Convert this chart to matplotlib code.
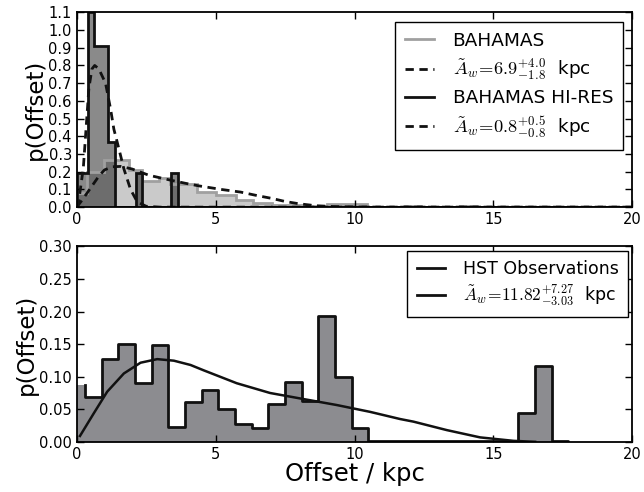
import numpy as np
import matplotlib
matplotlib.use('Agg')
import matplotlib.pyplot as plt
from matplotlib.lines import Line2D

plt.rcParams['mathtext.fontset'] = 'cm'
plt.rcParams['font.family'] = 'DejaVu Sans'

# --- top panel: simulated offsets ---
bahamas_edges = [0, 0.38, 1.0, 1.88, 2.36, 2.97, 3.36, 4.32, 5.0, 5.72, 6.36,
                 7.02, 8.4, 9.0, 10.44, 11.8, 12.4, 13.8, 14.4, 20]
bahamas_vals = [0.08, 0.2, 0.265, 0.21, 0.148, 0.165, 0.13, 0.085, 0.068, 0.042,
                0.026, 0.013, 0.006, 0.018, 0.002, 0.006, 0.002, 0.006, 0.0]

hires_edges = [0, 0.4, 0.64, 1.13, 1.37, 2.12, 2.37, 3.39, 3.63, 20]
hires_vals = [0.19, 1.1, 0.91, 0.365, 0.0, 0.19, 0.0, 0.19, 0.0]

bahamas_fit_x = [0, 0.2, 0.4, 0.6, 0.8, 1.0, 1.3, 1.6, 2.0, 2.6, 3.3, 3.9, 4.4,
                 5.2, 5.9, 6.5, 7.0, 7.5, 8.0, 8.6, 9.3, 10.0, 11.0, 20]
bahamas_fit_y = [0.0, 0.04, 0.085, 0.13, 0.175, 0.21, 0.228, 0.23, 0.215, 0.18,
                 0.155, 0.135, 0.12, 0.10, 0.085, 0.065, 0.05, 0.032, 0.019,
                 0.008, 0.003, 0.001, 0.0, 0.0]

hires_fit_x = [0.0, 0.05, 0.12, 0.24, 0.32, 0.44, 0.55, 0.65, 0.8, 1.04, 1.22,
               1.34, 1.52, 1.70, 1.94, 2.18, 2.5, 3.0, 20]
hires_fit_y = [0.0, 0.01, 0.085, 0.22, 0.40, 0.67, 0.78, 0.80, 0.78, 0.70, 0.555,
               0.44, 0.33, 0.216, 0.10, 0.03, 0.005, 0.0, 0.0]

# --- bottom panel: HST observations ---
hst_edges = np.linspace(-0.3, 17.7, 31)
hst_vals = [0.087, 0.069, 0.127, 0.150, 0.091, 0.148, 0.023, 0.0615, 0.0795,
            0.051, 0.028, 0.0205, 0.058, 0.092, 0.063, 0.193, 0.099, 0.0205,
            0.0015, 0.001, 0.001, 0.001, 0.001, 0.001, 0.001, 0.001, 0.001,
            0.0446, 0.117, 0.002]

hst_fit_x = [0.12, 0.62, 1.10, 1.70, 2.30, 2.90, 3.50, 4.10, 4.56, 5.76, 6.96,
             8.16, 9.36, 10.56, 11.64, 12.12, 13.32, 14.52, 15.72, 16.5]
hst_fit_y = [0.009, 0.044, 0.077, 0.105, 0.1215, 0.127, 0.1246, 0.118, 0.110,
             0.090, 0.075, 0.0657, 0.0565, 0.046, 0.035, 0.031, 0.018, 0.0068,
             0.0015, 0.0]

lab_bahamas = r'$\tilde{A}_w\!=\!6.9^{+4.0}_{-1.8}$  kpc'
lab_hires = r'$\tilde{A}_w\!=\!0.8^{+0.5}_{-0.8}$  kpc'
lab_hst = r'$\tilde{A}_w\!=\!11.82^{+7.27}_{-3.03}$  kpc'

DASH = (3, 2)

fig = plt.figure(figsize=(6.44, 4.92), dpi=100)
ax1 = fig.add_axes([0.119, 0.579, 0.863, 0.396])
ax2 = fig.add_axes([0.119, 0.102, 0.863, 0.397])

# top
ax1.stairs(bahamas_vals, bahamas_edges, fill=True, color='#cacaca', lw=0)
ax1.stairs(hires_vals, hires_edges, fill=True, color='k', alpha=0.46, lw=0)
ax1.stairs(bahamas_vals, bahamas_edges, color='#a0a0a0', lw=2)
ax1.stairs(hires_vals, hires_edges, color='#111111', lw=2)
ax1.plot(bahamas_fit_x, bahamas_fit_y, '--', dashes=DASH, color='#111111', lw=2)
ax1.plot(hires_fit_x, hires_fit_y, '--', dashes=DASH, color='#111111', lw=2)

handles1 = [Line2D([], [], color='#a0a0a0', lw=2),
            Line2D([], [], color='#111111', lw=2, ls='--', dashes=DASH),
            Line2D([], [], color='#111111', lw=2),
            Line2D([], [], color='#111111', lw=2, ls='--', dashes=DASH)]
labels1 = ['BAHAMAS', lab_bahamas, 'BAHAMAS HI-RES', lab_hires]
leg1 = ax1.legend(handles1, labels1, loc='upper right', fontsize=13.3,
                  fancybox=False, edgecolor='k', framealpha=1,
                  handlelength=1.55, handletextpad=1.0, borderpad=0.55,
                  labelspacing=0.38, borderaxespad=0.5)
leg1.get_frame().set_linewidth(1.0)

ax1.set_xlim(0, 20)
ax1.set_ylim(0, 1.1)
ax1.set_yticks(np.arange(0, 1.11, 0.1))
ax1.set_ylabel('p(Offset)', fontsize=16.5, labelpad=1)

# bottom
ax2.stairs(hst_vals, hst_edges, fill=True, color='#8c8c90', lw=0)
ax2.plot(list(hst_edges[1:]) + [hst_edges[-1]], hst_vals + [0],
         drawstyle='steps-pre', color='#111111', lw=2)
ax2.plot(hst_fit_x, hst_fit_y, '-', color='#111111', lw=1.8)

handles2 = [Line2D([], [], color='#111111', lw=2),
            Line2D([], [], color='#111111', lw=2)]
labels2 = ['HST Observations', lab_hst]
leg2 = ax2.legend(handles2, labels2, loc='upper right', fontsize=12.5,
                  fancybox=False, edgecolor='k', framealpha=1,
                  handlelength=1.65, handletextpad=1.0, borderpad=0.55,
                  labelspacing=0.25, borderaxespad=0.25)
leg2.get_frame().set_linewidth(1.0)

ax2.set_xlim(0, 20)
ax2.set_ylim(0, 0.30)
ax2.set_yticks(np.arange(0, 0.301, 0.05))
ax2.set_ylabel('p(Offset)', fontsize=16.5, labelpad=1)
ax2.set_xlabel('Offset / kpc', fontsize=17.5, labelpad=0)

for ax in (ax1, ax2):
    ax.set_xticks([0, 5, 10, 15, 20])
    ax.tick_params(direction='in', top=True, right=True, length=5,
                   width=1, labelsize=10.5)
    for sp in ax.spines.values():
        sp.set_linewidth(1.3)

ax1.yaxis.set_major_formatter(matplotlib.ticker.FormatStrFormatter('%.1f'))
ax2.yaxis.set_major_formatter(matplotlib.ticker.FormatStrFormatter('%.2f'))

fig.savefig('out.png', dpi=100)
